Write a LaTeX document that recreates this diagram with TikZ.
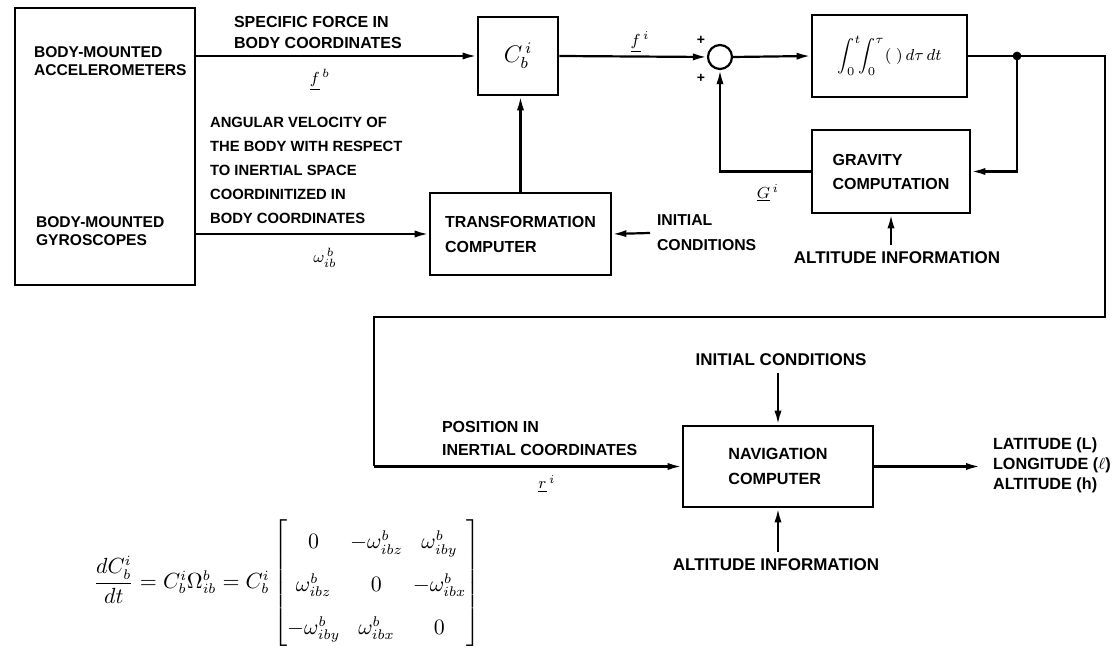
\documentclass[tikz,border=0pt]{standalone}
\usepackage{amsmath, amssymb, fontspec}
\usetikzlibrary{shapes,arrows.meta,positioning}
\setmainfont{Liberation Sans}

\begin{document}
\begin{tikzpicture}[
		x=0.5pt, y=-0.5pt,
		every node/.style={font=\bfseries\fontsize{8}{10.5}\selectfont},
		block/.style={draw, rectangle, line width=1.4pt, inner sep=0pt},
		wire/.style={line width=1.1pt},
		flow/.style={wire, -{Latex[length=7pt,width=3.6pt]}}
		]
		
		\useasboundingbox (0,0) rectangle (1119,656);
		
		% Body-mounted sensors
		\node[
		block,
		minimum width=90pt,
		minimum height=138.5pt
		] (body) at (105,146.5) {};
		\node[align=left, anchor=west, font=\bfseries\fontsize{7.8}{9}\selectfont] (acc) at (27,61) {BODY-MOUNTED\\ACCELEROMETERS};
		\node[align=left, anchor=west, font=\bfseries\fontsize{7.8}{9}\selectfont] (gyro) at (29,231) {BODY-MOUNTED\\GYROSCOPES};
		
		% Transformation matrix
		\node[
		block,
		minimum width=40pt,
		minimum height=39pt
		] (cbi) at (518,56) {\normalfont\large $C_b^{\,i}$};
		
		% Transformation computer
		\node[
		block,
		minimum width=90.5pt,
		minimum height=41pt,
		align=left,
		font=\bfseries\fontsize{8}{12.5}\selectfont
		] (trans) at (520.5,234) {TRANSFORMATION\\COMPUTER};
		
		% Summing junction
		\node[
		draw,
		circle,
		line width=1.1pt,
		minimum size=12pt,
		inner sep=0pt
		] (sum) at (720,57) {};
		\node (plusa) at (701,40) {\scriptsize +};
		\node (plusb) at (701,78) {\scriptsize +};
		
		% Double integrator
		\node[
		block,
		minimum width=77.5pt,
		minimum height=41pt
		] (integ) at (889.5,56) {\normalfont $\displaystyle\int_0^t\!\!\int_0^\tau (\;)\,d\tau\,dt$};
		
		% Gravity computation
		\node[
		block,
		minimum width=79pt,
		minimum height=41.5pt,
		align=left,
		font=\bfseries\fontsize{8}{12}\selectfont
		] (grav) at (891,171.5) {GRAVITY\\COMPUTATION};
		
		% Navigation computer
		\node[
		block,
		minimum width=95pt,
		minimum height=40.5pt,
		align=left,
		font=\bfseries\fontsize{8.1}{12.5}\selectfont
		] (nav) at (778,466.5) {NAVIGATION\\COMPUTER};
		
		% Labels
		\node[align=left, anchor=west] (spec) at (227,33) {SPECIFIC FORCE IN\\BODY COORDINATES};
		\node (fb) at (320,80) {\normalfont $\underline{f}^{\,b}$};
		\node[align=left, anchor=west, font=\bfseries\fontsize{7.4}{12}\selectfont] (angvel) at (203,170) {ANGULAR VELOCITY OF\\THE BODY WITH RESPECT\\TO INERTIAL SPACE\\COORDINITIZED IN\\BODY COORDINATES};
		\node (wib) at (325,258) {\normalfont $\omega_{ib}^{\,b}$};
		\node[align=left, anchor=west, font=\bfseries\fontsize{7.9}{12.5}\selectfont] (initA) at (650,233) {INITIAL\\CONDITIONS};
		\node (fi) at (640,42) {\normalfont $\underline{f}^{\,i}$};
		\node (gi) at (768,193) {\normalfont $\underline{G}^{\,i}$};
		\node[font=\bfseries\fontsize{8.5}{10}\selectfont] (altA) at (897,258) {ALTITUDE INFORMATION};
		\node[font=\bfseries\fontsize{8.5}{10}\selectfont] (initB) at (781,360) {INITIAL CONDITIONS};
		\node[font=\bfseries\fontsize{8.5}{10}\selectfont] (altB) at (776,565) {ALTITUDE INFORMATION};
		\node[align=left, anchor=west, font=\bfseries\fontsize{8}{11.5}\selectfont] (pos) at (435,438) {POSITION IN\\INERTIAL COORDINATES};
		\node (ri) at (547,484) {\normalfont $\underline{r}^{\,i}$};
		\node[align=left, anchor=west, font=\bfseries\fontsize{8.1}{10}\selectfont] (outs) at (986,465) {LATITUDE (L)\\LONGITUDE ($\ell$)\\ALTITUDE (h)};
		
		% Attitude equation
		\node (eqn) at (287,583) {\normalfont\fontsize{10.5}{13}\selectfont
			$\dfrac{dC_b^{i}}{dt} = C_b^{i}\Omega_{ib}^{b} = C_b^{i}
			\renewcommand{\arraystretch}{1.65}\setlength{\arraycolsep}{2.5pt}
			\begin{bmatrix}
				0 & -\omega_{ibz}^{b} & \omega_{iby}^{b}\\
				\omega_{ibz}^{b} & 0 & -\omega_{ibx}^{b}\\
				-\omega_{iby}^{b} & \omega_{ibx}^{b} & 0
			\end{bmatrix}$};
		
		% Corner points of the feedback wire
		\coordinate (jn) at (1017,56);
		\coordinate (rt) at (1105,56);
		\coordinate (rb) at (1105,317);
		\coordinate (lb) at (374,317);
		\coordinate (outend) at (980,466.5);
		
		% Arrows
		\draw[flow] (body.east |- cbi.west) -- (cbi.west);
		\draw[flow] (body.east |- trans.west) -- (trans.west);
		\draw[flow] (trans.north) -- (trans.north |- cbi.south);
		\draw[flow] (initA.west) -- (trans.east);
		\draw[flow] (cbi.east) -- (sum.west);
		\draw[flow] (sum.east) -- (integ.west);
		\draw[wire] (integ.east) -- (jn) -- (rt) -- (rb) -- (lb) -- (lb |- nav.west);
		\draw[flow] (lb |- nav.west) -- (nav.west);
		\fill (jn) circle (2.2pt);
		\draw[flow] (jn) -- (jn |- grav.east) -- (grav.east);
		\draw[flow] (grav.west) -- (sum |- grav.west) -- (sum.south);
		\draw[flow] (grav.south |- altA.north) -- (grav.south);
		\draw[flow] (nav.north |- initB.south) -- (nav.north);
		\draw[flow] (nav.south |- altB.north) -- (nav.south);
		\draw[flow] (nav.east) -- (outend);
		
	\end{tikzpicture}
\end{document}
